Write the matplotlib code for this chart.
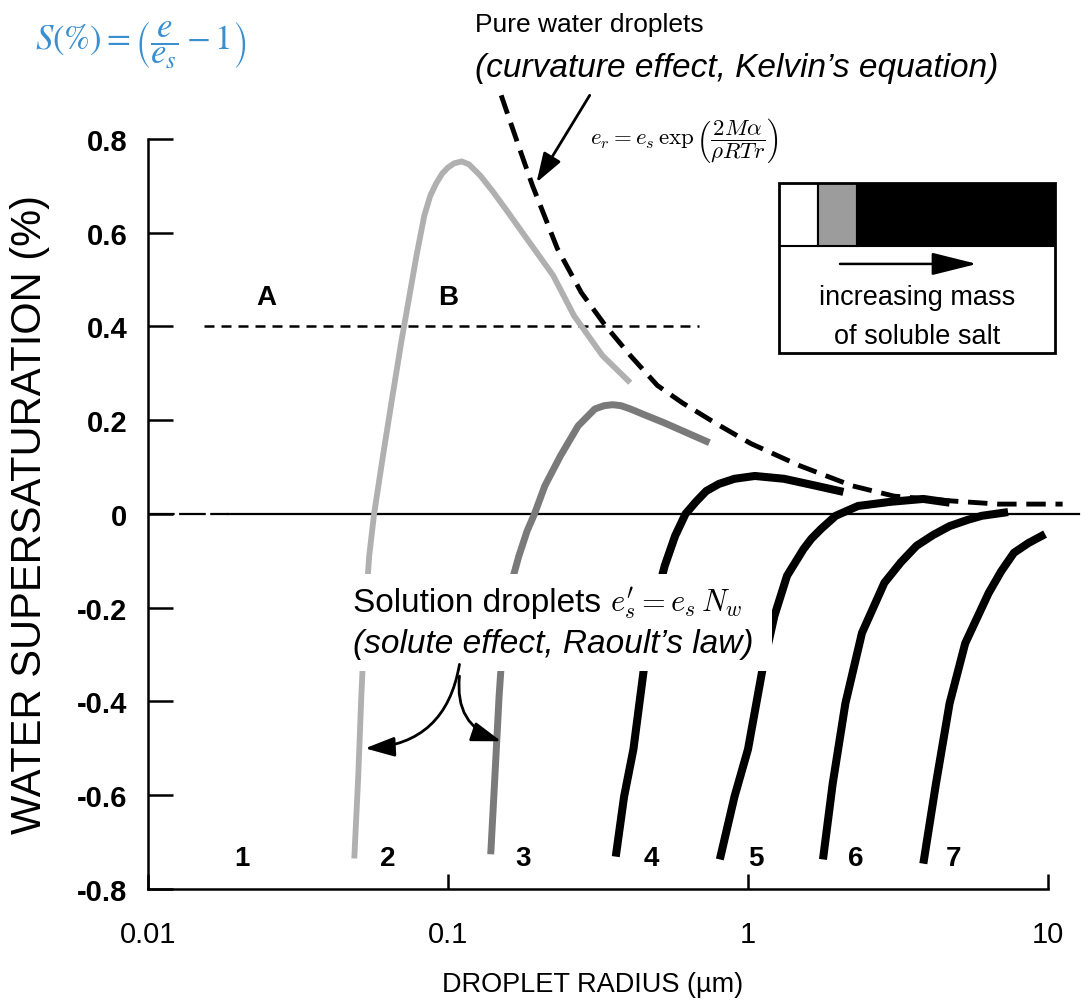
import numpy as np
import matplotlib
matplotlib.use('Agg')
import matplotlib.pyplot as plt
from matplotlib.patches import Rectangle, FancyArrowPatch

plt.rcParams['font.family'] = ['Liberation Sans', 'DejaVu Sans']

# droplet radius (um) vs supersaturation (%)
kelvin_r = [0.1504, 0.1628, 0.1763, 0.1911, 0.2315, 0.2783, 0.3344, 0.4052, 0.4989,
            0.6042, 0.7868, 1.023, 1.486, 2.226, 3.069, 4.699, 6.830, 11.19]
kelvin_s = [0.893, 0.829, 0.765, 0.701, 0.566, 0.472, 0.402, 0.338, 0.274,
            0.237, 0.192, 0.150, 0.103, 0.060, 0.038, 0.028, 0.021, 0.021]

c2_r = [0.0487, 0.0502, 0.0514, 0.0529, 0.0546, 0.0567, 0.0607, 0.0649, 0.0700, 0.0744, 0.0785,
        0.0834, 0.0873, 0.0913, 0.0956, 0.100, 0.1049, 0.111, 0.1173, 0.128, 0.141, 0.155,
        0.187, 0.224, 0.263, 0.327, 0.405]
c2_s = [-0.735, -0.560, -0.389, -0.218, -0.090, 0.0, 0.124, 0.241, 0.370, 0.466, 0.551,
        0.637, 0.679, 0.705, 0.726, 0.739, 0.748, 0.752, 0.746, 0.722, 0.688, 0.652,
        0.579, 0.509, 0.423, 0.338, 0.280]

c3_r = [0.1388, 0.1433, 0.1480, 0.1527, 0.1616, 0.1722, 0.1836, 0.1942, 0.2103, 0.2371,
        0.2716, 0.3087, 0.3318, 0.3537, 0.377, 0.4052, 0.4496, 0.5275, 0.7437]
c3_s = [-0.726, -0.560, -0.389, -0.261, -0.154, -0.090, -0.036, 0.0, 0.060, 0.124,
        0.188, 0.224, 0.231, 0.233, 0.231, 0.224, 0.212, 0.194, 0.152]

c4_r = [0.3624, 0.3863, 0.4150, 0.4496, 0.4870, 0.5275, 0.5714, 0.6189, 0.6706, 0.7262,
        0.7995, 0.9015, 1.054, 1.318, 1.688, 2.080]
c4_s = [-0.731, -0.603, -0.502, -0.331, -0.197, -0.111, -0.047, 0.0, 0.026, 0.049,
        0.064, 0.075, 0.081, 0.075, 0.060, 0.047]

c5_r = [0.8055, 0.9015, 1.000, 1.118, 1.224, 1.349, 1.531, 1.626, 1.752, 1.960, 2.327,
        3.001, 3.841, 4.699]
c5_s = [-0.737, -0.603, -0.502, -0.331, -0.218, -0.132, -0.075, -0.053, -0.032, -0.004, 0.017,
        0.026, 0.032, 0.024]

c6_r = [1.778, 1.916, 2.112, 2.398, 2.848, 3.234, 3.645, 4.139, 4.699, 5.377, 6.015, 7.361]
c6_s = [-0.737, -0.575, -0.404, -0.254, -0.147, -0.103, -0.068, -0.045, -0.026, -0.013, -0.004, 0.004]

c7_r = [3.841, 4.233, 4.699, 5.297, 6.339, 6.987, 7.697, 8.61, 9.779]
c7_s = [-0.746, -0.575, -0.404, -0.276, -0.169, -0.122, -0.083, -0.062, -0.043]

curve_labels = ['1', '2', '3', '4', '5', '6', '7']
curve_label_r = [0.0205, 0.0593, 0.168, 0.450, 1.0, 2.16, 4.56]

level_s = 0.4          # the A/B supersaturation level
level_r = [0.0154, 0.687]

xticks = [0.01, 0.1, 1, 10]
xtick_labels = ['0.01', '0.1', '1', '10']
yticks = [-0.8, -0.6, -0.4, -0.2, 0, 0.2, 0.4, 0.6, 0.8]
ytick_labels = ['-0.8', '-0.6', '-0.4', '-0.2', '0', '0.2', '0.4', '0.6', '0.8']

salt_colors = ['white', '#9c9c9c', 'black']

fig = plt.figure(figsize=(10.86, 10.03), dpi=100)
ax = fig.add_axes([0.1363, 0.1127, 0.8287, 0.7478])
ax.set_xscale('log')
ax.set_xlim(0.01, 10)
ax.set_ylim(-0.8, 0.8)

# zero line, dashed at the very left
ax.plot([0.01, 0.0185], [0, 0], color='black', lw=1.6, dashes=(12, 2), clip_on=False, zorder=2)
ax.plot([0.0185, 12.7], [0, 0], color='black', lw=1.6, clip_on=False, zorder=2)

# A/B level
ax.plot(level_r, [level_s, level_s], color='black', lw=1.8, dashes=(4, 2.8), zorder=2)

# solution droplet curves
line_kw = dict(solid_joinstyle='round', solid_capstyle='butt', zorder=3)
ax.plot(c2_r, c2_s, color='#b0b0b0', lw=4.2, **line_kw)
ax.plot(c3_r, c3_s, color='#7a7a7a', lw=5.0, **line_kw)
for r, s in [(c4_r, c4_s), (c5_r, c5_s), (c6_r, c6_s), (c7_r, c7_s)]:
    ax.plot(r, s, color='black', lw=5.8, **line_kw)

# pure water (Kelvin) curve
ax.plot(kelvin_r, kelvin_s, color='black', lw=3.5, dashes=(4, 2), clip_on=False, zorder=3)

for lab, r in zip(curve_labels, curve_label_r):
    ax.text(r, -0.735, lab, fontsize=20, fontweight='bold', ha='left' if lab != '1' else 'center',
            va='center', zorder=5)
ax.text(0.0248, 0.462, 'A', fontsize=20, fontweight='bold', ha='center', va='center')
ax.text(0.100, 0.462, 'B', fontsize=20, fontweight='bold', ha='center', va='center')

# axes styling
for side in ['top', 'right']:
    ax.spines[side].set_visible(False)
for side in ['left', 'bottom']:
    ax.spines[side].set_linewidth(1.8)
ax.set_xticks(xticks, labels=xtick_labels)
ax.minorticks_off()
ax.set_yticks(yticks, labels=ytick_labels)
ax.tick_params(axis='y', direction='in', length=18, width=1.8, pad=15, labelsize=21)
ax.tick_params(axis='x', direction='in', length=11, width=1.8, pad=22, labelsize=21)
for t in ax.get_yticklabels():
    t.set_fontweight('bold')

fig.text(0.546, 0.018, 'DROPLET RADIUS (\u00b5m)', fontsize=19.5, ha='center', va='center')
fig.text(0.0276, 0.4866, 'WATER SUPERSATURATION (%)', fontsize=30,
         rotation=90, ha='center', va='center')

# header texts
fig.text(0.032, 0.955, r'$S(\%) = \left(\dfrac{e}{e_s} - 1\right)$', fontsize=25,
         color='#3a8fd0', math_fontfamily='stix', ha='left', va='center')
fig.text(0.437, 0.975, 'Pure water droplets', fontsize=19, ha='left', va='center')
fig.text(0.437, 0.932, "(curvature effect, Kelvin\u2019s equation)", fontsize=24, style='italic',
         ha='left', va='center')
fig.text(0.543, 0.860, r'$e_r = e_s\,\exp\left(\dfrac{2M\alpha}{\rho RTr}\right)$', fontsize=16.5,
         math_fontfamily='cm', ha='left', va='center')
ax.annotate('', xy=(0.1972, 0.707), xytext=(0.2967, 0.893), annotation_clip=False,
            arrowprops=dict(arrowstyle='-|>,head_length=0.9,head_width=0.3', color='black',
                            lw=2, mutation_scale=20, shrinkA=0, shrinkB=0))

# solution droplets text, masking the curves behind it
ax.add_patch(Rectangle((0.322, 0.330), 0.389, 0.097, transform=fig.transFigure,
                       facecolor='white', edgecolor='none', zorder=4, clip_on=False))
fig.text(0.325, 0.398, 'Solution droplets', fontsize=24, ha='left', va='center', zorder=5)
fig.text(0.562, 0.398, r"$e_s^{\prime} = e_s\,N_w$", fontsize=22, math_fontfamily='cm',
         ha='left', va='center', zorder=5)
fig.text(0.325, 0.357, "(solute effect, Raoult\u2019s law)", fontsize=24, style='italic',
         ha='left', va='center', zorder=5)

arrow_kw = dict(arrowstyle='-|>,head_length=0.9,head_width=0.3', color='black', lw=2,
                mutation_scale=20, shrinkA=0, shrinkB=0, zorder=6)
ax.add_patch(FancyArrowPatch((0.1092, -0.321), (0.0529, -0.500),
                             connectionstyle='arc3,rad=-0.4', **arrow_kw))
ax.add_patch(FancyArrowPatch((0.1092, -0.346), (0.1504, -0.485),
                             connectionstyle='arc3,rad=0.4', **arrow_kw))

# legend box: increasing mass of soluble salt
lax = fig.add_axes([0.7173, 0.647, 0.2542, 0.1696])
lax.set_xlim(0, 1)
lax.set_ylim(0, 1)
lax.axis('off')
cell_x = [0, 0.141, 0.283]
cell_w = [0.141, 0.142, 0.717]
for x0, w, c in zip(cell_x, cell_w, salt_colors):
    lax.add_patch(Rectangle((x0, 0.629), w, 0.371, facecolor=c, edgecolor='black', lw=1.5))
lax.add_patch(Rectangle((0, 0), 1, 1, fill=False, edgecolor='black', lw=2, clip_on=False))
lax.annotate('', xy=(0.717, 0.524), xytext=(0.221, 0.524),
             arrowprops=dict(arrowstyle='-|>,head_length=1.4,head_width=0.35', color='black',
                             lw=1.8, mutation_scale=20, shrinkA=0, shrinkB=0))
lax.text(0.5, 0.329, 'increasing mass', fontsize=19.5, ha='center', va='center')
lax.text(0.5, 0.10, 'of soluble salt', fontsize=19.5, ha='center', va='center')

fig.savefig('out.png', dpi=100)
